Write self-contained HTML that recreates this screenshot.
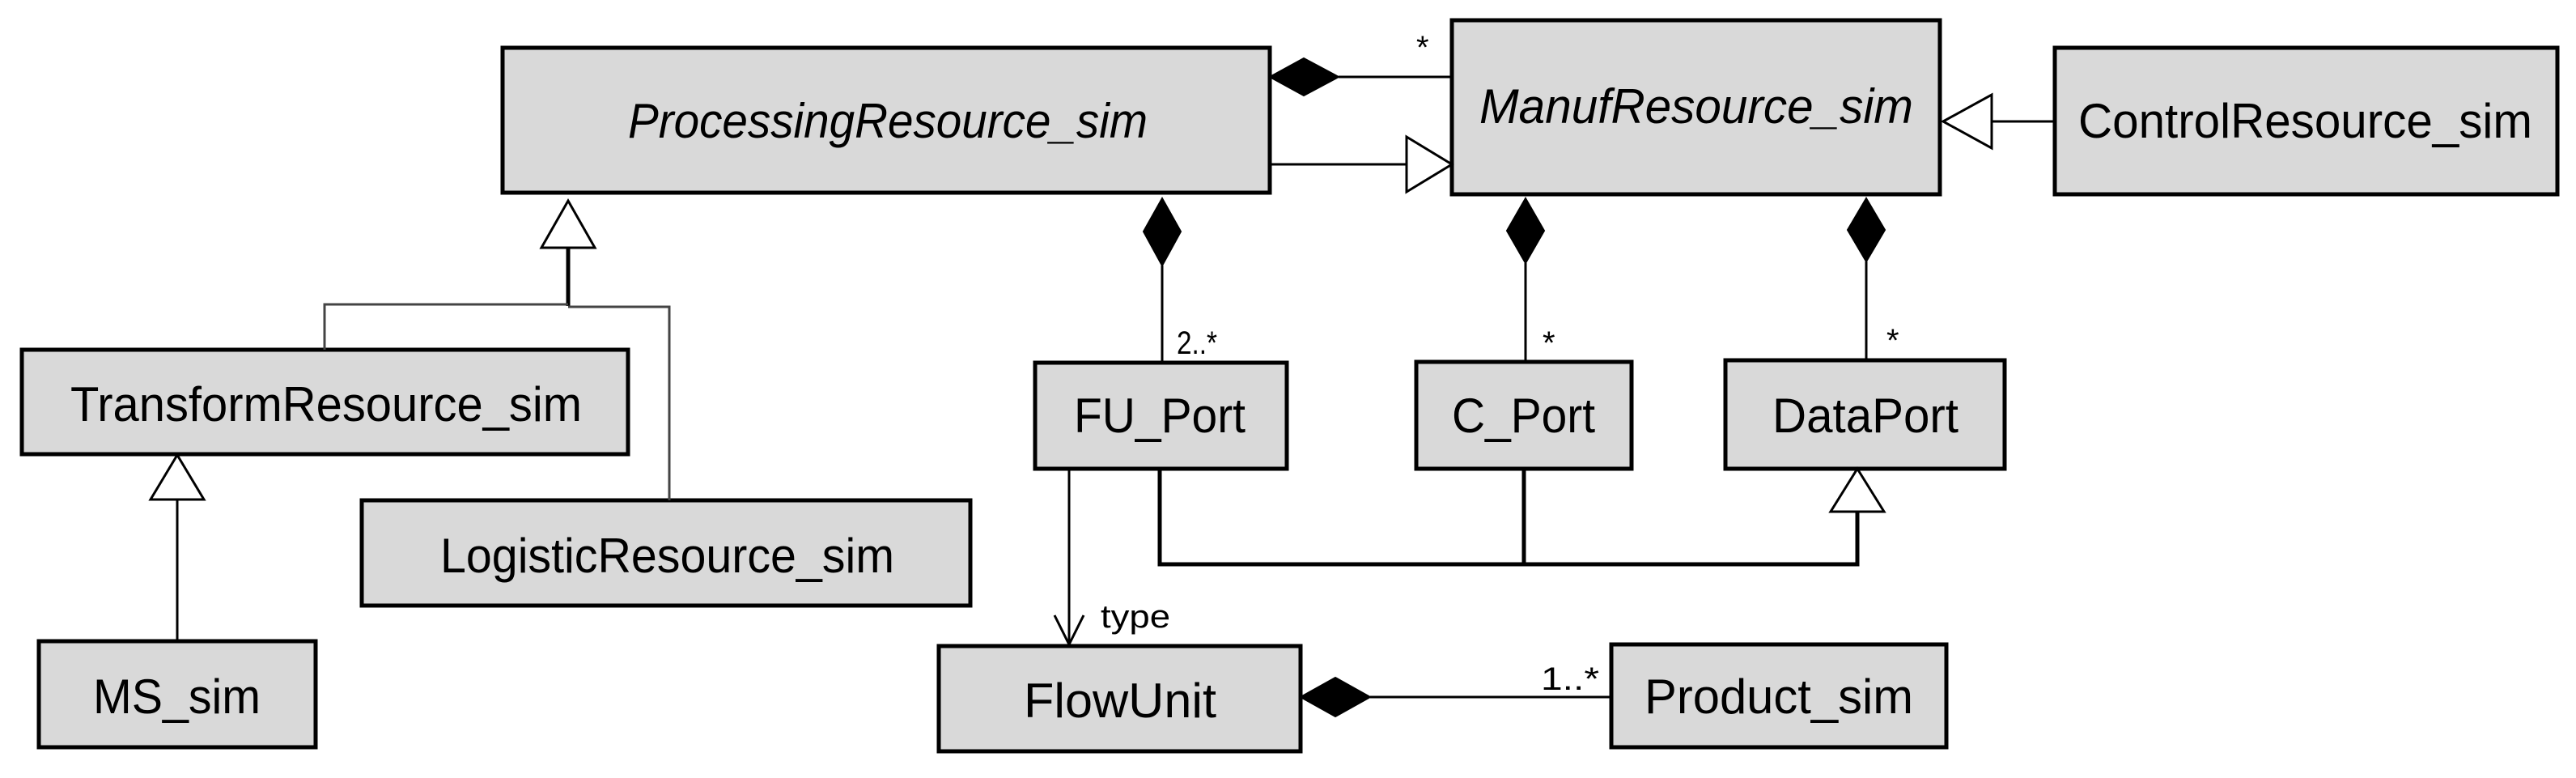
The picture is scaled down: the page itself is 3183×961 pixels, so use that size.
<!DOCTYPE html>
<html><head><meta charset="utf-8"><style>html,body{margin:0;padding:0;background:#fff}svg{display:block}</style></head>
<body>
<svg width="3183" height="961" viewBox="0 0 3183 961" xmlns="http://www.w3.org/2000/svg" font-family="Liberation Sans, sans-serif">
<g fill="#d9d9d9" stroke="#000" stroke-width="5">
<rect x="621" y="59" width="948" height="179"/>
<rect x="1794" y="25" width="603" height="215"/>
<rect x="2539" y="59" width="621" height="181"/>
<rect x="27" y="432" width="749" height="129"/>
<rect x="447" y="618" width="752" height="130"/>
<rect x="48" y="792" width="342" height="131"/>
<rect x="1279" y="448" width="311" height="131"/>
<rect x="1750" y="447" width="266" height="132"/>
<rect x="2132" y="445" width="345" height="134"/>
<rect x="1160" y="798" width="447" height="130"/>
<rect x="1991" y="796" width="414" height="127"/>
</g>
<g fill="none" stroke="#000" stroke-width="3">
<line x1="1654" y1="95" x2="1794" y2="95"/>
<line x1="1569" y1="203" x2="1738" y2="203"/>
<line x1="2461" y1="150" x2="2539" y2="150"/>
<line x1="1436" y1="328" x2="1436" y2="448"/>
<line x1="1885" y1="325" x2="1885" y2="447"/>
<line x1="2306" y1="323" x2="2306" y2="445"/>
<line x1="1321" y1="579" x2="1321" y2="796"/>
<polyline points="1303,760 1321,796 1339,760"/>
<line x1="1693" y1="861" x2="1991" y2="861"/>
<line x1="219" y1="617" x2="219" y2="792"/>
</g>
<g fill="none" stroke="#000" stroke-width="5">
<polyline points="1433,579 1433,697 2295,697 2295,632"/>
<line x1="1883" y1="579" x2="1883" y2="697"/>
<line x1="702" y1="306" x2="702" y2="378"/>
</g>
<g fill="none" stroke="#444" stroke-width="3">
<polyline points="401,432 401,376 702,376"/>
<polyline points="702,379 827,379 827,618"/>
</g>
<g fill="#000" stroke="#000" stroke-width="2">
<polygon points="1569,95 1611,72 1654,95 1611,118"/>
<polygon points="1436,245 1459,286 1436,328 1413,286"/>
<polygon points="1885,245 1908,285 1885,325 1862,285"/>
<polygon points="2306,245 2329,284 2306,323 2283,284"/>
<polygon points="1607,861 1650,837 1693,861 1650,885"/>
</g>
<g fill="#fff" stroke="#000" stroke-width="3">
<polygon points="1794,203 1738,169 1738,237"/>
<polygon points="2401,150 2461,117 2461,183"/>
<polygon points="702,248 735,306 669,306"/>
<polygon points="219,562 252,617 186,617"/>
<polygon points="2295,579 2328,632 2262,632"/>
</g>
<g font-size="60" fill="#000">
<text x="776" y="170" textLength="642" lengthAdjust="spacingAndGlyphs" font-style="italic">ProcessingResource_sim</text>
<text x="1828" y="152" textLength="536" lengthAdjust="spacingAndGlyphs" font-style="italic">ManufResource_sim</text>
<text x="2568" y="170" textLength="561" lengthAdjust="spacingAndGlyphs">ControlResource_sim</text>
<text x="87" y="520" textLength="632" lengthAdjust="spacingAndGlyphs">TransformResource_sim</text>
<text x="544" y="707" textLength="561" lengthAdjust="spacingAndGlyphs">LogisticResource_sim</text>
<text x="115" y="881" textLength="207" lengthAdjust="spacingAndGlyphs">MS_sim</text>
<text x="1327" y="534" textLength="212" lengthAdjust="spacingAndGlyphs">FU_Port</text>
<text x="1794" y="534" textLength="177" lengthAdjust="spacingAndGlyphs">C_Port</text>
<text x="2190" y="534" textLength="230" lengthAdjust="spacingAndGlyphs">DataPort</text>
<text x="1265" y="886" textLength="238" lengthAdjust="spacingAndGlyphs">FlowUnit</text>
<text x="2032" y="881" textLength="332" lengthAdjust="spacingAndGlyphs">Product_sim</text>
</g>
<g font-size="40" fill="#000">
<text x="1750" y="72">*</text>
<text x="1454" y="437" textLength="50" lengthAdjust="spacingAndGlyphs">2..*</text>
<text x="1906" y="437">*</text>
<text x="2331" y="434">*</text>
<text x="1360" y="775" textLength="86" lengthAdjust="spacingAndGlyphs">type</text>
<text x="1904" y="852" textLength="72" lengthAdjust="spacingAndGlyphs">1..*</text>
</g>
</svg>
</body></html>
